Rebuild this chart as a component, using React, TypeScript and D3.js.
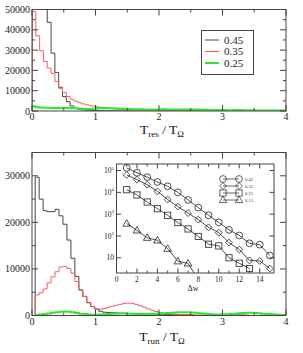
import React, { useEffect, useRef } from 'react';
import * as d3 from 'd3';

// upper panel: T_res / T_Omega histograms (bins of 0.06 starting at 0)
const resBinStart = 0;
const resBinWidth = 0.06;
const res045 = [150000, 110000, 80000, 60000, 43700, 28500, 19000, 11700, 7100, 4600, 2500, 1300, 900, 600, 400, 300, 250, 200, 150, 120, 100, 80, 60, 50, 40, 30];
const res035 = [49000, 37000, 29700, 24400, 21100, 18600, 14500, 11200, 9100, 7100, 5800, 4900, 4100, 3500, 3000, 2600, 2300, 2000, 1700, 1400, 1200, 1000, 900, 800, 700, 600, 550, 500, 450, 400, 350, 300, 250, 200, 150, 120, 100, 80, 60, 50, 40];
const res025 = [2400, 1900, 1700, 1600, 1600, 1500, 1500, 1600, 1500, 1500, 1400, 1300, 1200, 1100, 1000, 1000, 1100, 1300, 1400, 1500, 1400, 1300, 1200, 1100, 1000, 950, 900, 900, 850, 800, 800, 750, 750, 800, 850, 800, 750, 700, 700, 700, 750, 800, 750, 700, 650, 600, 550, 500, 500, 450, 450, 400, 400, 450, 450, 400, 350, 350, 300, 300, 300, 250, 250, 250, 200, 200, 200];

// lower panel: T_run / T_Omega histograms (bins of 0.0625 starting at 0.05)
const runBinStart = 0.05;
const runBinWidth = 0.0625;
const run045 = [29700, 25000, 22500, 22300, 22300, 22800, 21400, 19600, 16200, 12300, 8400, 5500, 4100, 2800, 1900, 1400, 900, 700, 650, 600, 550, 500, 500, 450, 450, 400, 400, 350, 350, 300, 300, 250, 250, 200, 200, 200, 150, 150, 150, 100];
const run035 = [4400, 4900, 5700, 7000, 8300, 9400, 10400, 10500, 10100, 9100, 7300, 5400, 4100, 2700, 1900, 1400, 1350, 1500, 1800, 2000, 2200, 2400, 2600, 2650, 2600, 2400, 2100, 1800, 1450, 1100, 850, 600, 450, 350, 300, 250, 200, 200, 150, 150, 100, 100, 100, 100, 150, 150, 200, 200, 250, 250, 200, 200, 150, 100];
const run025 = [100, 200, 300, 450, 600, 700, 800, 850, 800, 700, 550, 400, 300, 200, 150, 150, 200, 250, 300, 350, 400, 450, 450, 400, 350, 300, 250, 250, 300, 350, 400, 450, 500, 550, 600, 650, 700, 700, 700, 650, 600, 500, 400, 300, 250, 200, 200, 200, 250, 300, 400, 500, 550, 600, 600, 550, 500, 400, 300, 250, 200, 150, 100];

const histLabels = ['0.45', '0.35', '0.25'];
const resTicksY = [0, 10000, 20000, 30000, 40000, 50000];
const runTicksY = [0, 10000, 20000, 30000];
const mainTicksX = [0, 1, 2, 3, 4];

// inset: counts vs delta w (log scale)
const insetDw = [1, 2, 3, 4, 5, 6, 7, 8, 9, 10, 11, 12, 13, 14, 15];
const inset045 = [132000, 79000, 50000, 30000, 19000, 10000, 4500, 2000, 890, 420, 190, 105, 46, 40, 12.6];
const inset035 = [63000, 38000, 22400, 11200, 4700, 2240, 1120, 560, 250, 141, 50, 24, 7.6, 7.1, 3.2];
const inset025 = [13200, 7600, 3600, 1780, 890, 410, 210, 95, 42, 35, 10, 5.6, 3.2];
const inset015 = [370, 180, 83, 63, 26, 6.9, 5.5, 1];
const insetLabels = ['0.45', '0.35', '0.25', '0.15'];
const insetTicksX = [0, 2, 4, 6, 8, 10, 12, 14];
const insetDecades = [1, 2, 3, 4, 5];

const serif = 'Liberation Serif, Times New Roman, serif';
const frameColor = '#444';
const histColors = ['#444', '#f06060', '#2ee82e'];
const histWidths = [1, 1, 2];

const App: React.FC = () => {
  const svgRef = useRef<SVGSVGElement>(null);

  useEffect(() => {
    const svg = d3.select(svgRef.current);
    svg.selectAll('*').remove();

    const x = d3.scaleLinear().domain([0, 4]).range([32, 286]);
    const yRes = d3.scaleLinear().domain([0, 50000]).range([111, 9.5]);
    const yRun = d3.scaleLinear().domain([0, 35000]).range([315.5, 152.5]);

    const defs = svg.append('defs');

    // frame + inward ticks on all four sides (xmgrace style)
    const frame = (xs: any, ys: any, xMaj: number[], xMin: number[], yMaj: number[], yMin: number[], big: number, small: number) => {
      const [x0, x1] = xs.range();
      const [y1, y0] = ys.range();
      const g = svg.append('g').attr('stroke', frameColor).attr('stroke-width', 1).attr('fill', 'none');
      g.append('rect').attr('x', x0).attr('y', y0).attr('width', x1 - x0).attr('height', y1 - y0);
      const tick = (vals: number[], len: number) => {
        vals.forEach(v => {
          const px = xs(v);
          g.append('line').attr('x1', px).attr('x2', px).attr('y1', y1).attr('y2', y1 - len);
          g.append('line').attr('x1', px).attr('x2', px).attr('y1', y0).attr('y2', y0 + len);
        });
      };
      const tickY = (vals: number[], len: number) => {
        vals.forEach(v => {
          const py = ys(v);
          g.append('line').attr('x1', x0).attr('x2', x0 + len).attr('y1', py).attr('y2', py);
          g.append('line').attr('x1', x1).attr('x2', x1 - len).attr('y1', py).attr('y2', py);
        });
      };
      tick(xMaj, big); tick(xMin, small);
      tickY(yMaj, big); tickY(yMin, small);
    };

    const hist = (ys: any, data: number[], start: number, width: number, i: number, clipId: string) => {
      const pts: [number, number][] = [[start, 0]];
      data.forEach((v, k) => pts.push([start + k * width, v]));
      pts.push([start + data.length * width, 0]);
      pts.push([4, 0]);
      const line = d3.line<[number, number]>().x(d => x(d[0])).y(d => ys(d[1])).curve(d3.curveStepAfter);
      svg.append('path')
        .attr('clip-path', `url(#${clipId})`)
        .attr('d', line(pts)!)
        .attr('fill', 'none')
        .attr('stroke', histColors[i])
        .attr('stroke-width', histWidths[i]);
    };

    const panel = (ys: any, ticksY: number[], series: number[][], start: number, width: number, clipId: string) => {
      const [y1, y0] = ys.range();
      defs.append('clipPath').attr('id', clipId)
        .append('rect').attr('x', 32).attr('y', y0).attr('width', 254).attr('height', y1 - y0);
      series.forEach((s, i) => hist(ys, s, start, width, i, clipId));
      const minorX = d3.range(0.5, 4, 1);
      const minorY = ticksY.map(t => t + 5000).filter(t => t < ys.domain()[1]);
      frame(x, ys, mainTicksX, minorX, ticksY, minorY, 6, 3);
      svg.append('g').selectAll('text').data(ticksY).join('text')
        .attr('x', 30).attr('y', d => ys(d)).attr('dy', '0.35em')
        .attr('text-anchor', 'end').attr('font-family', serif).attr('font-size', 10).attr('fill', '#222')
        .text(d => String(d));
      svg.append('g').selectAll('text').data(mainTicksX).join('text')
        .attr('x', d => x(d)).attr('y', y1 + 9)
        .attr('text-anchor', 'middle').attr('font-family', serif).attr('font-size', 10).attr('fill', '#222')
        .text(d => String(d));
    };

    const axisTitle = (sub: string, y: number) => {
      const t = svg.append('text').attr('x', 162).attr('y', y).attr('text-anchor', 'middle')
        .attr('font-family', serif).attr('font-size', 13.5).attr('fill', '#111');
      t.append('tspan').text('T');
      t.append('tspan').attr('font-size', 9).attr('dy', 3).text(sub);
      t.append('tspan').attr('dy', -3).text(' / T');
      t.append('tspan').attr('font-size', 9).attr('dy', 3).text('Ω');
    };

    // upper panel
    panel(yRes, resTicksY, [res045, res035, res025], resBinStart, resBinWidth, 'clipRes');
    axisTitle('res', 134);

    // legend of upper panel
    const lg = svg.append('g');
    lg.append('rect').attr('x', 201.5).attr('y', 30.5).attr('width', 52).attr('height', 44)
      .attr('fill', 'white').attr('stroke', frameColor);
    histLabels.forEach((lab, i) => {
      const yy = 40 + i * 11.5;
      lg.append('line').attr('x1', 205).attr('x2', 219).attr('y1', yy).attr('y2', yy)
        .attr('stroke', histColors[i]).attr('stroke-width', histWidths[i]);
      lg.append('text').attr('x', 224).attr('y', yy).attr('dy', '0.35em')
        .attr('font-family', serif).attr('font-size', 11).attr('fill', '#222').text(lab);
    });

    // lower panel
    panel(yRun, runTicksY, [run045, run035, run025], runBinStart, runBinWidth, 'clipRun');
    axisTitle('run', 341);

    // inset
    const ix = d3.scaleLinear().domain([0, 15.4]).range([116.5, 274]);
    const iy = d3.scaleLog().domain([2, 2e5]).range([273, 164]);
    svg.append('rect').attr('x', 116.5).attr('y', 164).attr('width', 157.5).attr('height', 109).attr('fill', 'white');
    defs.append('clipPath').attr('id', 'clipInset')
      .append('rect').attr('x', 116.5).attr('y', 164).attr('width', 157.5).attr('height', 109);

    const insetSeries = [inset045, inset035, inset025, inset015];
    const marker = (g: any, kind: number, cx: number, cy: number) => {
      const r = 3.4;
      if (kind === 0) g.append('circle').attr('cx', cx).attr('cy', cy).attr('r', r);
      else if (kind === 1) g.append('path').attr('d', `M${cx},${cy - r}L${cx + r},${cy}L${cx},${cy + r}L${cx - r},${cy}Z`);
      else if (kind === 2) g.append('rect').attr('x', cx - r + 0.3).attr('y', cy - r + 0.3).attr('width', 2 * r - 0.6).attr('height', 2 * r - 0.6);
      else g.append('path').attr('d', `M${cx},${cy - r - 0.5}L${cx + r + 0.4},${cy + r - 0.8}L${cx - r - 0.4},${cy + r - 0.8}Z`);
    };

    const ig = svg.append('g').attr('clip-path', 'url(#clipInset)')
      .attr('fill', 'none').attr('stroke', '#222').attr('stroke-width', 0.8);
    insetSeries.forEach((s, k) => {
      const pts = s.map((v, i) => [insetDw[i], v] as [number, number]);
      const line = d3.line<[number, number]>().x(d => ix(d[0])).y(d => iy(d[1]));
      ig.append('path').attr('d', line(pts)!);
      pts.forEach(d => marker(ig, k, ix(d[0]), iy(d[1])));
    });

    const decadeVals = insetDecades.map(n => Math.pow(10, n));
    frame(ix, iy, insetTicksX, d3.range(1, 15, 2), decadeVals, [], 4.5, 2.5);

    svg.append('g').selectAll('text').data(insetTicksX).join('text')
      .attr('x', d => ix(d)).attr('y', 282)
      .attr('text-anchor', 'middle').attr('font-family', serif).attr('font-size', 7.5).attr('fill', '#222')
      .text(d => String(d));
    insetDecades.forEach(n => {
      const t = svg.append('text').attr('x', 114).attr('y', iy(Math.pow(10, n)) + 2.6)
        .attr('text-anchor', 'end').attr('font-family', serif).attr('font-size', 7.5).attr('fill', '#222');
      t.append('tspan').text('10');
      if (n > 1) t.append('tspan').attr('font-size', 5).attr('dy', -3.5).text(String(n));
    });
    svg.append('text').attr('x', 193).attr('y', 291).attr('text-anchor', 'middle')
      .attr('font-family', serif).attr('font-size', 8).attr('fill', '#222').text('Δw');

    // inset legend
    const il = svg.append('g').attr('fill', 'none').attr('stroke', '#222').attr('stroke-width', 0.7);
    insetLabels.forEach((lab, k) => {
      const yy = 179 + k * 7;
      il.append('line').attr('x1', 223).attr('x2', 239).attr('y1', yy).attr('y2', yy);
      marker(il, k, 223, yy);
      marker(il, k, 239, yy);
      svg.append('text').attr('x', 245).attr('y', yy).attr('dy', '0.35em')
        .attr('font-family', serif).attr('font-size', 4.5).attr('fill', '#333').text(lab);
    });
  }, []);

  return (
    <svg ref={svgRef} width={303} height={353}
      style={{ position: 'absolute', left: 0, top: 0, background: 'white' }} />
  );
};

export default App;
